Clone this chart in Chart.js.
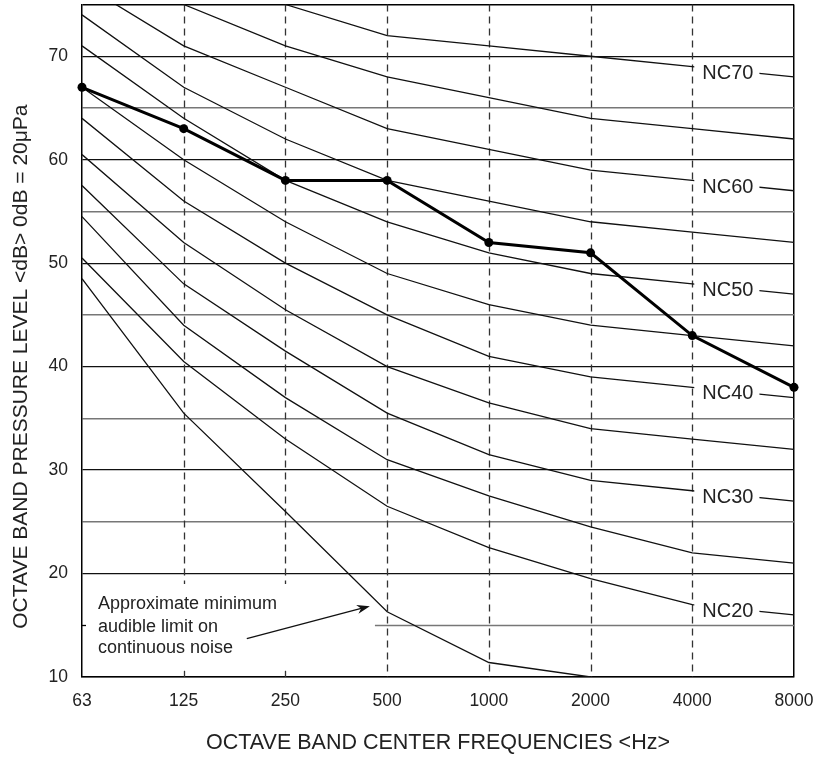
<!DOCTYPE html>
<html>
<head>
<meta charset="utf-8">
<script src="https://cdn.jsdelivr.net/npm/chart.js@4"></script>
<style>
  body { margin: 0; background: #fff; }
</style>
</head>
<body>
<canvas id="nc" width="834" height="759"></canvas>
<script>
const freqLabels = ['63', '125', '250', '500', '1000', '2000', '4000', '8000'];

// NC curves, dB at each octave band
const nc70 = [83, 79, 75, 72, 71, 70, 69, 68];
const nc65 = [80, 75, 71, 68, 66, 64, 63, 62];
const nc60 = [77, 71, 67, 63, 61, 59, 58, 57];
const nc55 = [74, 67, 62, 58, 56, 54, 53, 52];
const nc50 = [71, 64, 58, 54, 51, 49, 48, 47];
const nc45 = [67, 60, 54, 49, 46, 44, 43, 42];
const nc40 = [64, 56, 50, 45, 41, 39, 38, 37];
const nc35 = [60.5, 52, 45.5, 40, 36.5, 34, 33, 32];
const nc30 = [57.5, 48, 41.5, 35.5, 31.5, 29, 28, 27];
const nc25 = [54.5, 44, 37, 31, 27.5, 24.5, 22, 21];
const nc20 = [50.5, 40.5, 33, 26.5, 22.5, 19.5, 17, 16];
const audible = [48.5, 35.5, 26, 16.3, 11.4, 10, null, null];

const measured = [67, 63, 58, 58, 52, 51, 43, 38];

const ncCurves = [
    { name: 'NC70', values: nc70, label: true },
    { name: 'NC65', values: nc65, label: false },
    { name: 'NC60', values: nc60, label: true },
    { name: 'NC55', values: nc55, label: false },
    { name: 'NC50', values: nc50, label: true },
    { name: 'NC45', values: nc45, label: false },
    { name: 'NC40', values: nc40, label: true },
    { name: 'NC35', values: nc35, label: false },
    { name: 'NC30', values: nc30, label: true },
    { name: 'NC25', values: nc25, label: false },
    { name: 'NC20', values: nc20, label: true }
];

const noteLines = ['Approximate minimum', 'audible limit on', 'continuous noise'];
const yTitle = 'OCTAVE BAND PRESSURE LEVEL <dB> 0dB = 20\u03bcPa';

const FONT = '"Liberation Sans", Arial, sans-serif';

function toPoints(values) {
    return values.map((v, i) => ({ x: i, y: v }));
}

const datasets = [{
    label: 'Measured',
    data: toPoints(measured),
    borderColor: '#000',
    backgroundColor: '#000',
    borderWidth: 3,
    pointRadius: 4.5,
    pointBackgroundColor: '#000',
    pointBorderWidth: 0,
    tension: 0,
    clip: false
}];

ncCurves.forEach(c => {
    datasets.push({
        label: c.name,
        data: toPoints(c.values),
        borderColor: '#111',
        borderWidth: 1.3,
        pointRadius: 0,
        tension: 0
    });
});

datasets.push({
    label: 'Audible limit',
    data: toPoints(audible),
    borderColor: '#111',
    borderWidth: 1.3,
    pointRadius: 0,
    tension: 0,
    spanGaps: false
});

const decorations = {
    id: 'decorations',
    beforeDatasetsDraw(chart) {
        const ctx = chart.ctx;
        const xs = chart.scales.x;
        const ys = chart.scales.y;
        const area = chart.chartArea;
        ctx.save();

        // dashed verticals
        ctx.strokeStyle = '#333';
        ctx.lineWidth = 1.3;
        ctx.setLineDash([7, 5]);
        for (let i = 1; i < freqLabels.length - 1; i++) {
            const x = Math.round(xs.getPixelForValue(i)) + 0.5;
            ctx.beginPath();
            ctx.moveTo(x, area.top);
            if (i <= 2) {
                ctx.lineTo(x, ys.getPixelForValue(19));
            } else {
                ctx.lineTo(x, area.bottom);
            }
            ctx.stroke();
            if (i <= 2) {
                ctx.setLineDash([]);
                ctx.beginPath();
                ctx.moveTo(x, ys.getPixelForValue(10.6));
                ctx.lineTo(x, area.bottom);
                ctx.stroke();
                ctx.setLineDash([7, 5]);
            }
        }
        ctx.setLineDash([]);

        // partial 15 dB line
        ctx.strokeStyle = '#777';
        ctx.lineWidth = 1.3;
        const y15 = Math.round(ys.getPixelForValue(15)) + 0.5;
        ctx.beginPath();
        ctx.moveTo(xs.getPixelForValue(2.88), y15);
        ctx.lineTo(area.right, y15);
        ctx.stroke();
        ctx.strokeStyle = '#000';
        ctx.beginPath();
        ctx.moveTo(area.left, y15);
        ctx.lineTo(area.left + 4, y15);
        ctx.stroke();
        ctx.restore();
    },
    afterDatasetsDraw(chart) {
        const ctx = chart.ctx;
        const xs = chart.scales.x;
        const ys = chart.scales.y;
        ctx.save();

        // NC labels
        ctx.font = '20px ' + FONT;
        ctx.textBaseline = 'middle';
        ctx.textAlign = 'left';
        ncCurves.filter(c => c.label).forEach(c => {
            const x0 = xs.getPixelForValue(6);
            const x1 = xs.getPixelForValue(7);
            const y0 = ys.getPixelForValue(c.values[6]);
            const y1 = ys.getPixelForValue(c.values[7]);
            const tx = x0 + 10;
            const w = ctx.measureText(c.name).width;
            const cx = tx + w / 2;
            const cy = y0 + (y1 - y0) * (cx - x0) / (x1 - x0) + 2;
            ctx.fillStyle = '#fff';
            ctx.fillRect(x0 + 2, cy - 9, w + 14, 18);
            ctx.fillStyle = '#222';
            ctx.fillText(c.name, tx, cy + 1);
        });

        // note text
        ctx.font = '18px ' + FONT;
        ctx.fillStyle = '#222';
        const noteY = [17.1, 14.8, 12.8];
        noteLines.forEach((t, i) => {
            ctx.fillText(t, xs.getPixelForValue(0.157), ys.getPixelForValue(noteY[i]));
        });

        // arrow
        const ax0 = xs.getPixelForValue(1.62), ay0 = ys.getPixelForValue(13.7);
        const ax1 = xs.getPixelForValue(2.83), ay1 = ys.getPixelForValue(16.85);
        const ang = Math.atan2(ay1 - ay0, ax1 - ax0);
        ctx.strokeStyle = '#111';
        ctx.lineWidth = 1.3;
        ctx.beginPath();
        ctx.moveTo(ax0, ay0);
        ctx.lineTo(ax1 - 8 * Math.cos(ang), ay1 - 8 * Math.sin(ang));
        ctx.stroke();
        ctx.fillStyle = '#111';
        ctx.beginPath();
        ctx.moveTo(ax1, ay1);
        ctx.lineTo(ax1 - 13 * Math.cos(ang) + 4.5 * Math.sin(ang), ay1 - 13 * Math.sin(ang) - 4.5 * Math.cos(ang));
        ctx.lineTo(ax1 - 9 * Math.cos(ang), ay1 - 9 * Math.sin(ang));
        ctx.lineTo(ax1 - 13 * Math.cos(ang) - 4.5 * Math.sin(ang), ay1 - 13 * Math.sin(ang) + 4.5 * Math.cos(ang));
        ctx.closePath();
        ctx.fill();

        // y axis title, set a little below the plot centre as in the original
        ctx.translate(21, ys.getPixelForValue(40));
        ctx.rotate(-Math.PI / 2);
        ctx.font = '21px ' + FONT;
        ctx.textAlign = 'center';
        ctx.fillStyle = '#222';
        ctx.fillText(yTitle, 0, 0);
        ctx.restore();
    }
};

const ctx = document.getElementById('nc').getContext('2d');
const chart = new Chart(ctx, {
    type: 'line',
    data: { datasets: datasets },
    options: {
        responsive: false,
        animation: false,
        layout: { padding: { top: 3, right: 40, left: 0, bottom: 0 } },
        plugins: {
            legend: { display: false },
            tooltip: { enabled: false }
        },
        scales: {
            x: {
                type: 'linear',
                min: 0,
                max: 7,
                afterFit(scale) { scale.height = 82; },
                ticks: {
                    stepSize: 1,
                    padding: 14,
                    color: '#222',
                    font: { family: FONT, size: 17.5 },
                    callback: v => freqLabels[v]
                },
                grid: {
                    drawTicks: false,
                    lineWidth: 1.5,
                    color: c => (c.tick && c.tick.value === 7) ? '#000' : 'rgba(0,0,0,0)'
                },
                border: { color: '#000', width: 1.5 },
                title: {
                    display: true,
                    text: 'OCTAVE BAND CENTER FREQUENCIES <Hz>',
                    color: '#222',
                    font: { family: FONT, size: 21.5 },
                    padding: { top: 0, bottom: 3 }
                }
            },
            y: {
                min: 10,
                max: 75,
                afterFit(scale) {
                    scale.width = 82;
                    scale.paddingTop = 0;
                    scale.paddingBottom = 0;
                },
                ticks: {
                    stepSize: 5,
                    autoSkip: false,
                    padding: 14,
                    color: '#222',
                    font: { family: FONT, size: 17.5 },
                    callback: v => (v % 10 === 0 && v < 75) ? v : ''
                },
                grid: {
                    drawTicks: false,
                    lineWidth: c => (c.tick && c.tick.value % 10 === 0) ? 1.3 : 1.5,
                    color: c => {
                        const v = c.tick ? c.tick.value : 0;
                        if (v === 15) return 'rgba(0,0,0,0)';
                        if (v === 75) return '#000';
                        return v % 10 === 0 ? '#111' : '#777';
                    }
                },
                border: { color: '#000', width: 1.5 },
                title: { display: false }
            }
        }
    },
    plugins: [decorations]
});
</script>
</body>
</html>
